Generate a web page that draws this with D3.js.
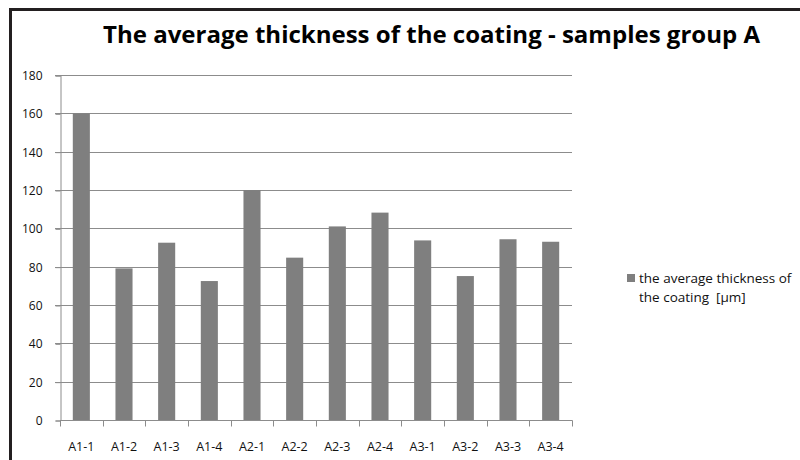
<!DOCTYPE html>
<html>
<head>
<meta charset="utf-8">
<script src="https://cdn.jsdelivr.net/npm/d3@7"></script>
<style>
  html, body { margin: 0; padding: 0; background: #fff; }
  svg { display: block; }
</style>
</head>
<body>
<svg id="chart" width="800" height="460"></svg>
<script>
const categories = ["A1-1","A1-2","A1-3","A1-4","A2-1","A2-2","A2-3","A2-4","A3-1","A3-2","A3-3","A3-4"];
const values = [160, 79.1, 92.5, 72.5, 120, 84.7, 101, 108.2, 93.7, 75.1, 94.3, 93.0];
const yTicks = [0, 20, 40, 60, 80, 100, 120, 140, 160, 180];
const titleText = "The average thickness of the coating - samples group A";
const legendLines = ["the average thickness of", "the coating  [\u00b5m]"];

(function () {
const svg = d3.select("#chart");
const font = "'Open Sans', 'Noto Sans', sans-serif";
const plotL = 60, plotR = 572, plotT = 75, plotB = 420;

// outer frame
svg.append("rect").attr("x", 10.5).attr("y", 9.5).attr("width", 800).attr("height", 460)
  .attr("fill", "#fff").attr("stroke", "#231f20").attr("stroke-width", 3);

const x = d3.scaleBand().domain(categories).range([plotL, plotR]).paddingInner(0.6).paddingOuter(0.3);
const y = d3.scaleLinear().domain([0, 180]).range([plotB, plotT]);

// gridlines
svg.append("g").selectAll("line").data(yTicks.filter(d => d > 0)).join("line")
  .attr("x1", plotL - 5).attr("x2", plotR)
  .attr("y1", d => Math.round(y(d)) + 0.5).attr("y2", d => Math.round(y(d)) + 0.5)
  .attr("stroke", "#8c8c8c").attr("stroke-width", 1);

// bars
svg.append("g").selectAll("rect").data(values).join("rect")
  .attr("x", (d, i) => x(categories[i]))
  .attr("width", x.bandwidth())
  .attr("y", d => y(d))
  .attr("height", d => y(0) - y(d))
  .attr("fill", "#7f7f7f");

// y axis
const yAxis = d3.axisLeft(y).tickValues(yTicks).tickSize(5).tickPadding(13);
const gy = svg.append("g").attr("transform", `translate(${plotL + 0.5},0.5)`).call(yAxis);
gy.select(".domain").attr("stroke", "#8c8c8c");
gy.selectAll(".tick line").attr("stroke", "#8c8c8c");
gy.selectAll(".tick text").attr("font-family", font).attr("font-size", 12).attr("fill", "#111");

// x axis (ticks at band boundaries)
const gx = svg.append("g").attr("transform", `translate(0,${plotB + 0.5})`);
gx.append("line").attr("x1", plotL).attr("x2", plotR + 0.5).attr("stroke", "#8c8c8c");
const boundaries = d3.range(categories.length + 1).map(i => plotL + i * (plotR - plotL) / categories.length);
gx.selectAll("line.tk").data(boundaries).join("line").attr("class", "tk")
  .attr("x1", d => Math.round(d) + 0.5).attr("x2", d => Math.round(d) + 0.5)
  .attr("y1", 0).attr("y2", 6).attr("stroke", "#8c8c8c");
gx.selectAll("text").data(categories).join("text")
  .attr("x", d => x(d) + x.bandwidth() / 2)
  .attr("y", 30.5)
  .attr("text-anchor", "middle")
  .attr("font-family", font).attr("font-size", 12.5).attr("fill", "#111")
  .text(d => d);

// title
svg.append("text").attr("x", 103).attr("y", 43)
  .attr("font-family", font).attr("font-weight", "bold").attr("font-size", 24)
  .attr("fill", "#000")
  .attr("textLength", 657).attr("lengthAdjust", "spacingAndGlyphs")
  .text(titleText);

// legend
const lg = svg.append("g");
lg.append("rect").attr("x", 627).attr("y", 274).attr("width", 8).attr("height", 8).attr("fill", "#7f7f7f");
lg.selectAll("text").data(legendLines).join("text")
  .attr("x", 639).attr("y", (d, i) => 282.5 + i * 19)
  .attr("font-family", font).attr("font-size", 13.5).attr("fill", "#111")
  .style("white-space", "pre")
  .text(d => d);
})();
</script>
</body>
</html>
